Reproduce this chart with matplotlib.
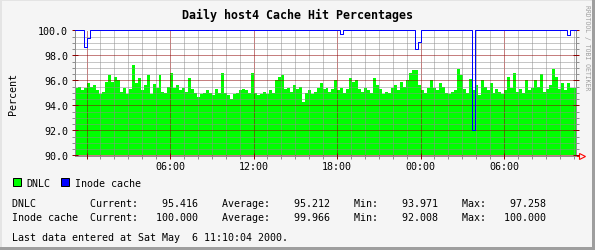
"""
Daily host4 cache hit chart, drawn in the look of an RRDtool graph.
"""

import datetime as dt

import matplotlib
matplotlib.use("Agg")
import matplotlib.dates as mdates
import matplotlib.pyplot as plt
import numpy as np
import pandas as pd
from matplotlib.patches import Rectangle

# --- data -------------------------------------------------------------
title = "Daily host4 Cache Hit Percentages"
y_label = "Percent"
start_time = dt.datetime(2000, 5, 4, 23, 10, 4)
end_time = dt.datetime(2000, 5, 6, 11, 10, 4)

dnlc = [
    95.4, 95.5, 95.2, 95.4, 95.8, 95.5, 95.6, 95.2, 94.9, 95.1, 95.9, 96.4, 95.9, 96.3,
    96.0, 95.1, 95.4, 94.9, 95.3, 97.26, 95.8, 96.2, 95.2, 95.6, 96.4, 94.9, 95.7, 95.4,
    96.4, 95.1, 95.0, 95.5, 96.6, 95.4, 95.6, 95.2, 95.4, 95.1, 96.2, 95.3, 95.0, 94.7,
    94.9, 95.0, 95.2, 95.0, 94.8, 95.3, 95.0, 96.6, 95.0, 94.8, 94.5, 94.9, 95.0, 95.2,
    95.3, 95.2, 95.0, 96.6, 95.0, 94.8, 94.9, 95.1, 94.9, 95.2, 95.0, 96.0, 96.3, 96.4,
    95.3, 95.4, 95.1, 95.6, 95.3, 95.5, 94.3, 95.0, 95.2, 94.9, 95.1, 95.4, 95.8, 95.3,
    95.4, 95.1, 95.3, 96.0, 95.2, 95.4, 95.0, 95.3, 96.2, 95.9, 96.0, 95.3, 95.1, 95.4,
    95.2, 95.0, 96.2, 95.6, 95.3, 94.9, 95.1, 95.0, 95.4, 95.6, 95.2, 95.9, 95.5, 96.0,
    96.6, 96.8, 96.8, 95.6, 95.2, 95.0, 95.4, 96.0, 95.4, 95.2, 95.8, 95.5, 95.0, 94.9,
    95.1, 95.2, 96.9, 96.4, 95.3, 95.0, 96.1, 95.2, 95.6, 94.8, 96.0, 95.5, 95.2, 95.8,
    95.0, 95.3, 95.1, 94.9, 95.2, 96.3, 95.4, 96.6, 95.1, 95.3, 95.0, 96.0, 95.2, 95.4,
    96.0, 95.5, 96.5, 95.1, 95.3, 95.6, 96.9, 96.3, 95.3, 95.8, 95.2, 95.8, 95.4, 95.4,
]
# inode cache sits at 100 % apart from a few short dips (sample index -> value)
inode_dips = {3: 98.7, 4: 99.4, 89: 99.7, 114: 98.5, 115: 99.1, 133: 92.0, 165: 99.6}

series_names = ["DNLC", "Inode cache"]
current = [95.416, 100.000]
average = [95.212, 99.966]
minimum = [93.971, 92.008]
maximum = [97.258, 100.000]
last_update = "Sat May  6 11:10:04 2000"

# --- rrdtool style ------------------------------------------------------
BACK = "#f5f5f5"
CANVAS = "#ffffff"
SHADEA = "#e4e4e4"
SHADEB = "#9e9e9e"
GRID = "#8f8f8f"
MGRID = "#8f0000"
ARROW = "#ff0000"
COLORS = ["#00ff00", "#0000ff"]

W, H = 595, 251
LEFT, TOP, RIGHT, BOTTOM = 75, 31.5, 576, 156.5   # plot area in pixels
MONO = "DejaVu Sans Mono"
FS = 6 / 0.602 * 0.72      # 6 px character cell
FS_TITLE = 7 / 0.602 * 0.72
PX = 0.72                  # one pixel in points
DOT = (0, (PX, PX))

plt.rcParams["font.family"] = MONO
plt.rcParams["lines.scale_dashes"] = False

fig = plt.figure(figsize=(W / 100, H / 100), dpi=100, facecolor=BACK)

# overlay in pixel coordinates for frame, legend and text
ov = fig.add_axes([0, 0, 1, 1], zorder=-1)
ov.set_xlim(0, W)
ov.set_ylim(H, 0)
ov.axis("off")
ov.add_patch(Rectangle((0, 0), W, 2, color=SHADEA, lw=0))
ov.add_patch(Rectangle((0, 0), 2, H, color=SHADEA, lw=0))
ov.add_patch(Rectangle((0, H - 3), W, 3, color=SHADEB, lw=0))
ov.add_patch(Rectangle((W - 3, 0), 3, H, color=SHADEB, lw=0))

ov.text(298, 18.5, title, ha="center", va="baseline", fontsize=FS_TITLE, fontweight="bold")
ov.text(13, 94, y_label, rotation=90, ha="center", va="center", fontsize=FS)
ov.text(587.5, 48, "RRDTOOL / TOBI OETIKER", rotation=270, ha="center", va="center",
        fontsize=4.7, color="#a0a0a0")

x = 12.7
for name, color in zip(series_names, COLORS):
    ov.add_patch(Rectangle((x, 179), 8, 8, facecolor=color, edgecolor="black", lw=PX))
    ov.text(x + 14, 186.8, name, ha="left", va="baseline", fontsize=FS)
    x += 14 + len(name) * 6 + 10

for row, name in enumerate(series_names):
    line = (f"{name:<12} Current:{current[row]:10.3f}    Average:{average[row]:10.3f}"
            f"    Min:{minimum[row]:10.3f}    Max:{maximum[row]:10.3f}")
    ov.text(12.2, 207.3 + row * 13.7, line, ha="left", va="baseline", fontsize=FS)
ov.text(12.2, 241, f"Last data entered at {last_update}.", ha="left", va="baseline", fontsize=FS)

# --- graph ------------------------------------------------------------
ax = fig.add_axes([LEFT / W, 1 - BOTTOM / H, (RIGHT - LEFT) / W, (BOTTOM - TOP) / H])
ax.set_facecolor(CANVAS)

edges = pd.date_range(start_time, end_time, periods=len(dnlc) + 1).to_pydatetime()
ax.fill_between(edges, np.append(dnlc, dnlc[-1]), 90, step="post", color=COLORS[0], lw=0,
                zorder=1, antialiased=False)

inode = np.full(len(dnlc), 100.0)
for i, v in inode_dips.items():
    inode[i] = v
ax.plot(edges, np.append(inode, inode[-1]), drawstyle="steps-post", color=COLORS[1], lw=PX,
        zorder=3, clip_on=False)

ax.set_xlim(start_time, end_time)
ax.set_ylim(90, 100)

ax.yaxis.set_major_locator(plt.MultipleLocator(2))
ax.yaxis.set_minor_locator(plt.MultipleLocator(0.5))
ax.yaxis.set_major_formatter(plt.FormatStrFormatter("%.1f"))
ax.xaxis.set_major_locator(mdates.HourLocator(byhour=[0, 6, 12, 18]))
ax.xaxis.set_minor_locator(mdates.HourLocator())
hhmm = mdates.DateFormatter("%H:%M")
first_label = mdates.date2num(start_time + dt.timedelta(hours=2))
ax.xaxis.set_major_formatter(plt.FuncFormatter(lambda v, pos: hhmm(v) if v > first_label else ""))

ax.set_axisbelow(False)
ax.grid(which="major", color=MGRID, linestyle=DOT, linewidth=PX, snap=True)
ax.grid(which="minor", color=GRID, linestyle=DOT, linewidth=PX, snap=True)

ax.tick_params(which="major", length=4, width=PX, color=MGRID, direction="inout",
               labelsize=FS, right=True)
ax.tick_params(which="minor", length=2, width=PX, color=GRID, direction="out", right=True)
ax.tick_params(axis="y", which="major", pad=3)
ax.tick_params(axis="x", which="major", pad=2)

ax.spines["top"].set_visible(False)
for side in ["left", "right", "bottom"]:
    ax.spines[side].set_color(GRID)
    ax.spines[side].set_linewidth(PX)

# red arrow at the end of the time axis
ax.plot([1.0, 1.006], [0, 0], transform=ax.transAxes, color=ARROW, lw=PX, clip_on=False)
ax.plot([1.011], [0], marker=">", ms=4.5, mfc="none", mec=ARROW, mew=0.8,
        transform=ax.transAxes, clip_on=False)

fig.savefig("out.png", dpi=100, facecolor=BACK)
